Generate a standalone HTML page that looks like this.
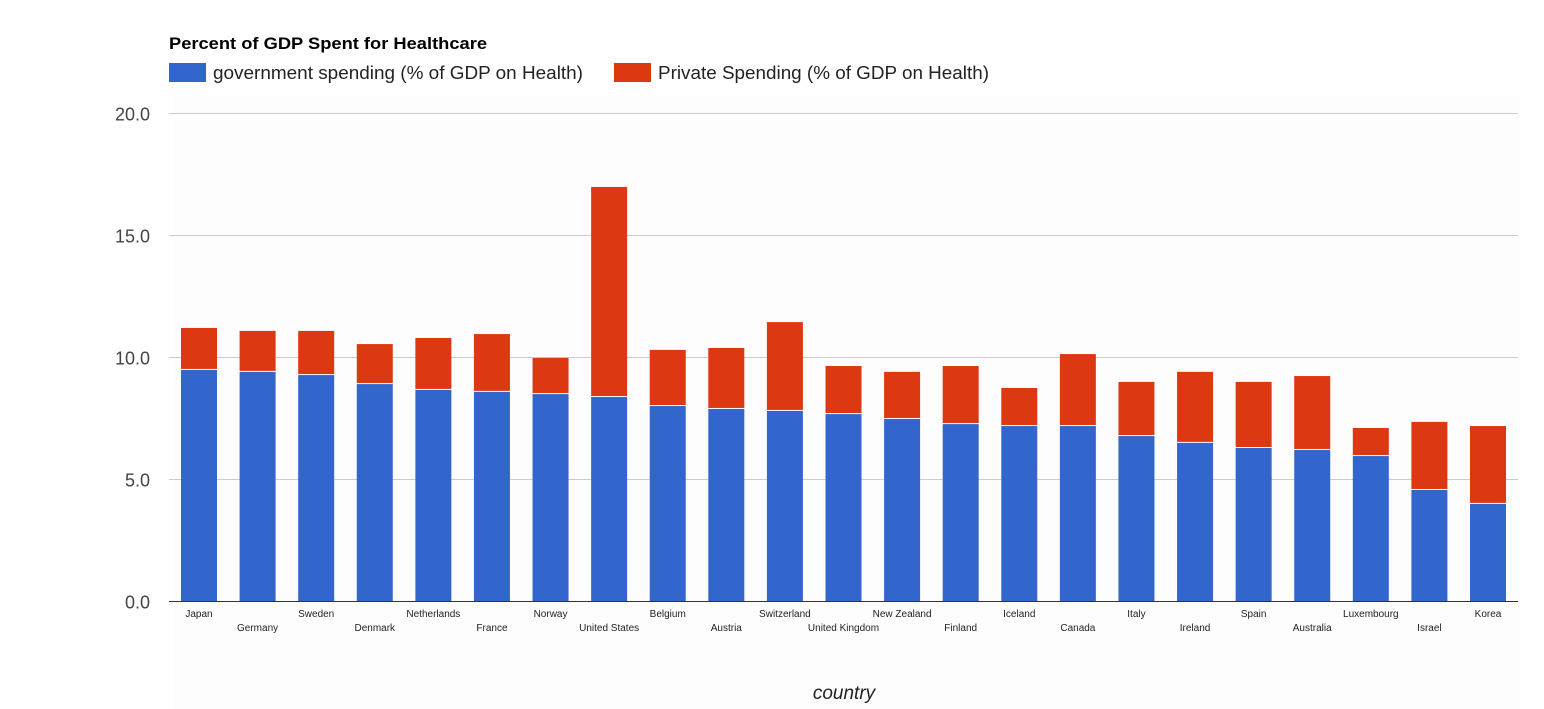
<!DOCTYPE html>
<html><head><meta charset="utf-8"><style>
html,body{margin:0;padding:0;background:#fff;}
svg{display:block;font-family:"Liberation Sans",Arial,sans-serif;}
</style></head><body>
<svg id="chart" width="1544" height="709">
<rect x="175" y="95" width="1345" height="614" fill="#fdfdfd"/>
<text x="169" y="49" font-size="17" font-weight="bold" fill="#000" textLength="318" lengthAdjust="spacingAndGlyphs">Percent of GDP Spent for Healthcare</text>
<g>
<rect x="169" y="63" width="37" height="19" fill="#3366cc"/>
<text x="213" y="79" font-size="18" fill="#222" textLength="370" lengthAdjust="spacingAndGlyphs">government spending (% of GDP on Health)</text>
<rect x="614" y="63" width="37" height="19" fill="#dc3912"/>
<text x="658" y="79" font-size="18" fill="#222" textLength="331" lengthAdjust="spacingAndGlyphs">Private Spending (% of GDP on Health)</text>
</g>
<g id="grid"></g><g id="bars"></g><g id="xlabels"></g>
<line x1="169" y1="601.5" x2="1518" y2="601.5" stroke="#333" stroke-width="1"/>
<text x="844" y="699" font-size="19" font-style="italic" text-anchor="middle" fill="#222">country</text>
</svg>
<script>
const categories=["Japan","Germany","Sweden","Denmark","Netherlands","France","Norway","United States","Belgium","Austria","Switzerland","United Kingdom","New Zealand","Finland","Iceland","Canada","Italy","Ireland","Spain","Australia","Luxembourg","Israel","Korea"];
const govValues=[9.47,9.39,9.26,8.89,8.65,8.57,8.48,8.36,7.99,7.87,7.79,7.66,7.46,7.25,7.17,7.17,6.76,6.48,6.27,6.19,5.94,4.55,3.98];
const privValues=[1.72,1.68,1.81,1.64,2.13,2.37,1.48,8.61,2.30,2.50,3.64,1.97,1.93,2.38,1.56,2.95,2.22,2.91,2.71,3.03,1.15,2.79,3.19];
const yTicks=[0,5,10,15,20];
const yTickLabels=["0.0","5.0","10.0","15.0","20.0"];
const NS="http://www.w3.org/2000/svg";
const y0=601,y1=113,yMax=20;
function yScale(v){return y0-(v/yMax)*(y0-y1);}
const xStart=199,xStep=(1488-199)/22,bw=36;
function xScale(i){return xStart+i*xStep;}
function mk(tag,attrs,parent){const e=document.createElementNS(NS,tag);for(const k in attrs)e.setAttribute(k,attrs[k]);parent.appendChild(e);return e;}
const grid=document.getElementById('grid');
yTicks.forEach((t,i)=>{
  const y=Math.round(yScale(t))+0.5;
  if(t>0){const l=mk('line',{x1:169,x2:1518,y1:y,y2:y,stroke:'#ccc','stroke-width':1},grid);
  
  }
  const tx=mk('text',{x:150,y:y+7,'font-size':18,'text-anchor':'end',fill:'#444'},grid);
  tx.textContent=yTickLabels[i];
  
  
});
const bars=document.getElementById('bars'),xl=document.getElementById('xlabels');
categories.forEach((c,i)=>{
  const cx=xScale(i),g=govValues[i],p=privValues[i];
  const r1=mk('rect',{x:cx-bw/2,y:yScale(g),width:bw,height:yScale(0)-yScale(g),fill:'#3366cc'},bars);
  
  
  const r2=mk('rect',{x:cx-bw/2,y:yScale(g+p),width:bw,height:yScale(g)-yScale(g+p)-1,fill:'#dc3912'},bars);
  
  
  const t=mk('text',{x:cx,y:i%2===0?617:631,'font-size':10,'text-anchor':'middle',fill:'#222'},xl);
  t.textContent=c;
  
  
});
</script>
</body></html>
